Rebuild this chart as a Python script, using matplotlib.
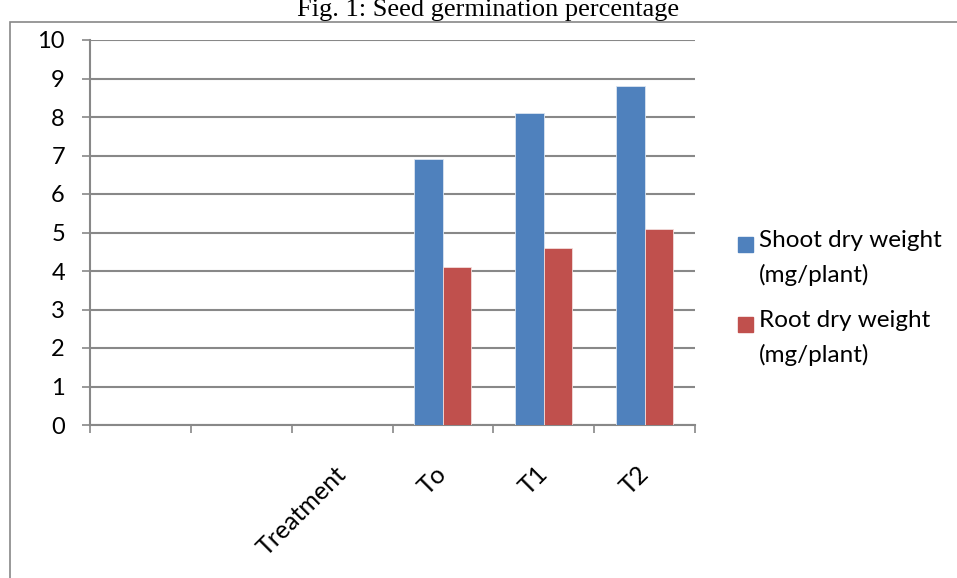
import numpy as np
import matplotlib.pyplot as plt
from matplotlib.patches import Rectangle
from matplotlib.transforms import ScaledTranslation

# Chart data
categories = ['', '', 'Treatment', 'To', 'T1', 'T2']
treatments = ['To', 'T1', 'T2']
shoot = [6.9, 8.1, 8.8]   # Shoot dry weight (mg/plant)
root = [4.1, 4.6, 5.1]    # Root dry weight (mg/plant)
series_names = ['Shoot dry weight\n(mg/plant)', 'Root dry weight\n(mg/plant)']
yticks = list(range(0, 11))

blue = '#4F81BD'
red = '#C0504D'
grid_col = '#888888'
font = 'Lato'

fig = plt.figure(figsize=(9.57, 5.78), dpi=100)
ax = fig.add_axes([90/957, 1 - 425/578, 605/957, 385/578])

x = np.array([categories.index(t) for t in treatments])
w = 0.283
ax.bar(x - w/2, shoot, w, color=blue, edgecolor='#dbe5f1', linewidth=0.6, zorder=3)
ax.bar(x + w/2, root, w, color=red, edgecolor='#f2dcdb', linewidth=0.6, zorder=3)

ax.set_xlim(-0.5, len(categories) - 0.5)
ax.set_ylim(0, 10)
ax.set_yticks(yticks)
ax.yaxis.grid(True, color=grid_col, linewidth=1.5, zorder=0)
ax.set_axisbelow(True)

# category boundaries get tick marks, centers get labels
ax.set_xticks(np.arange(-0.5, len(categories)), minor=True)
ax.set_xticks(np.arange(len(categories)))
ax.set_xticklabels(categories, rotation=45, ha='right', va='top',
                   rotation_mode='anchor', fontsize=18, family=font)
ax.tick_params(axis='x', which='major', length=0, pad=8)
ax.tick_params(axis='x', which='minor', length=5.5, width=1.2, color=grid_col)
ax.tick_params(axis='y', length=6, width=1.2, color=grid_col, labelsize=17, pad=12)
for lab in ax.get_yticklabels():
    lab.set_family(font)
shift = ScaledTranslation(-8/100, -26/100, fig.dpi_scale_trans)
for lab in ax.get_xticklabels():
    lab.set_transform(lab.get_transform() + shift)

for s in ['top', 'right']:
    ax.spines[s].set_visible(False)
for s in ['left', 'bottom']:
    ax.spines[s].set_color(grid_col)
    ax.spines[s].set_linewidth(1.5)

# legend, drawn by hand so the swatch sits on the first text line
for i, (name, col) in enumerate(zip(series_names, [blue, red])):
    yc = 244 + i * 80
    fig.patches.append(Rectangle((738/957, 1 - (yc + 7.5)/578), 15/957, 15/578,
                                 transform=fig.transFigure, color=col))
    fig.text(759/957, 1 - (yc - 14)/578, name, ha='left', va='top',
             family=font, fontsize=17.5, linespacing=1.7)

# outer chart border (extends past the image edges)
fig.patches.append(Rectangle((10/957, -0.1), 1.2, 1 - 22/578 + 0.1,
                             transform=fig.transFigure, fill=False,
                             edgecolor=grid_col, linewidth=1.2))

fig.text(488/957, 1 - 16/578, 'Fig. 1: Seed germination percentage',
         ha='center', va='baseline', family='Liberation Serif', fontsize=19)

fig.savefig('out.png', dpi=100)
